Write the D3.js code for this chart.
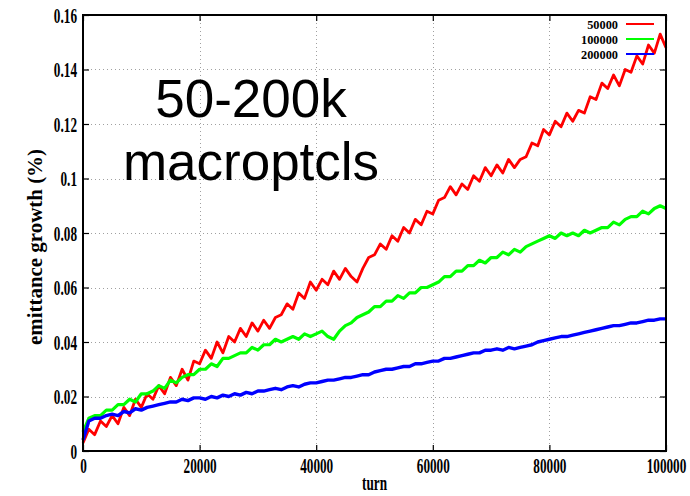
<!DOCTYPE html>
<html>
<head>
<meta charset="utf-8">
<script src="https://cdn.jsdelivr.net/npm/d3@7"></script>
<style>
  html, body { margin: 0; padding: 0; background: #fff; }
  svg { display: block; }
</style>
</head>
<body>
<svg id="chart" width="690" height="496"></svg>
<script>
// Turn number of each sample (every 1000 turns)
const turns = d3.range(0, 100001, 1000);

// Emittance growth (%) for each macroparticle count
const growth50k = [
  0.003, 0.008, 0.006, 0.011, 0.009, 0.013, 0.010, 0.016, 0.013, 0.019,
  0.016, 0.021, 0.019, 0.024, 0.021, 0.027, 0.024, 0.030, 0.026, 0.033,
  0.032, 0.037, 0.034, 0.040, 0.036, 0.042, 0.040, 0.045, 0.042, 0.047,
  0.044, 0.048, 0.045, 0.049, 0.050, 0.054, 0.052, 0.058, 0.056, 0.062,
  0.059, 0.063, 0.061, 0.066, 0.063, 0.067, 0.064, 0.062, 0.067, 0.071,
  0.072, 0.076, 0.074, 0.079, 0.077, 0.082, 0.080, 0.085, 0.083, 0.088,
  0.087, 0.092, 0.093, 0.097, 0.094, 0.098, 0.096, 0.101, 0.099, 0.104,
  0.101, 0.105, 0.102, 0.107, 0.104, 0.107, 0.108, 0.113, 0.112, 0.118,
  0.116, 0.121, 0.119, 0.124, 0.121, 0.125, 0.124, 0.130, 0.129, 0.135,
  0.133, 0.138, 0.134, 0.140, 0.139, 0.145, 0.142, 0.149, 0.146, 0.153,
  0.148
];
const growth100k = [
  0.007, 0.012, 0.013, 0.013, 0.015, 0.015, 0.017, 0.017, 0.019, 0.018,
  0.021, 0.021, 0.022, 0.024, 0.023, 0.026, 0.025, 0.027, 0.028, 0.028,
  0.030, 0.030, 0.032, 0.031, 0.034, 0.034, 0.035, 0.036, 0.036, 0.038,
  0.037, 0.039, 0.039, 0.041, 0.040, 0.041, 0.042, 0.041, 0.043, 0.042,
  0.043, 0.044, 0.042, 0.041, 0.044, 0.046, 0.047, 0.049, 0.050, 0.051,
  0.053, 0.053, 0.055, 0.055, 0.057, 0.056, 0.058, 0.058, 0.060, 0.060,
  0.061, 0.062, 0.064, 0.064, 0.066, 0.066, 0.068, 0.068, 0.070, 0.069,
  0.071, 0.071, 0.073, 0.072, 0.074, 0.073, 0.075, 0.076, 0.077, 0.078,
  0.079, 0.078, 0.080, 0.079, 0.080, 0.079, 0.081, 0.080, 0.081, 0.082,
  0.082, 0.084, 0.083, 0.085, 0.086, 0.086, 0.088, 0.087, 0.089, 0.090,
  0.089
];
const growth200k = [
  0.004, 0.011, 0.012, 0.012, 0.013, 0.0135, 0.013, 0.0145, 0.014, 0.0155,
  0.015, 0.016, 0.0165, 0.017, 0.0175, 0.018, 0.018, 0.019, 0.0185, 0.0195,
  0.0195, 0.019, 0.020, 0.0195, 0.0205, 0.020, 0.021, 0.0205, 0.0215, 0.021,
  0.022, 0.022, 0.0225, 0.023, 0.0225, 0.0235, 0.024, 0.0235, 0.0245, 0.025,
  0.025, 0.0255, 0.026, 0.026, 0.0265, 0.027, 0.027, 0.0275, 0.028, 0.028,
  0.029, 0.0295, 0.030, 0.030, 0.0305, 0.031, 0.031, 0.032, 0.032, 0.0325,
  0.033, 0.033, 0.034, 0.034, 0.0345, 0.035, 0.0355, 0.036, 0.036, 0.037,
  0.037, 0.0375, 0.037, 0.038, 0.0375, 0.038, 0.0385, 0.039, 0.040, 0.0405,
  0.041, 0.0415, 0.042, 0.042, 0.0425, 0.043, 0.0435, 0.044, 0.0445, 0.045,
  0.0455, 0.046, 0.046, 0.0465, 0.047, 0.047, 0.0475, 0.048, 0.048, 0.0485,
  0.0485
];

const seriesNames = ["50000", "100000", "200000"];
const seriesColors = ["#ff0000", "#00ff00", "#0000ff"];
const seriesValues = [growth50k, growth100k, growth200k];

const xTicks = [0, 20000, 40000, 60000, 80000, 100000];
const yTicks = [0, 0.02, 0.04, 0.06, 0.08, 0.1, 0.12, 0.14, 0.16];

const titleLines = ["50-200k", "macroptcls"];

// ---- layout ----
const svg = d3.select("#chart");
const plotLeft = 83, plotRight = 666, plotTop = 15, plotBottom = 451;
const squeeze = 0.63;   // narrow serif look for tick text

const x = d3.scaleLinear().domain([0, 100000]).range([plotLeft, plotRight]);
const y = d3.scaleLinear().domain([0, 0.16]).range([plotBottom, plotTop]);

svg.append("rect").attr("width", 690).attr("height", 496).attr("fill", "#fff");

// dotted grid
const grid = svg.append("g").attr("stroke", "#a0a0a0").attr("stroke-width", 1)
  .attr("stroke-dasharray", "1,3");
grid.selectAll("line.gx").data(xTicks.slice(1, -1)).join("line").attr("class", "gx")
  .attr("x1", d => Math.round(x(d)) + 0.5).attr("x2", d => Math.round(x(d)) + 0.5)
  .attr("y1", plotTop).attr("y2", plotBottom);
grid.selectAll("line.gy").data(yTicks.slice(1, -1)).join("line").attr("class", "gy")
  .attr("y1", d => Math.round(y(d)) + 0.5).attr("y2", d => Math.round(y(d)) + 0.5)
  .attr("x1", plotLeft).attr("x2", plotRight);

// data lines (drawn 50k first, 200k on top)
const line = d3.line().x((d, i) => x(turns[i])).y(d => y(d));
const widths = [2.8, 3.2, 3.4];
seriesValues.forEach((vals, i) => {
  svg.append("path").datum(vals)
    .attr("fill", "none")
    .attr("stroke", seriesColors[i])
    .attr("stroke-width", widths[i])
    .attr("stroke-linejoin", "round")
    .attr("d", line);
});

// axes with inward ticks
const serif = "'Liberation Serif', 'DejaVu Serif', serif";
const fmtY = d => d === 0 ? "0" : String(+d.toFixed(2));

function styleAxis(g) {
  g.select(".domain").remove();
  g.selectAll(".tick line").attr("stroke", "#000").attr("stroke-width", 1.2);
}

const gLeft = svg.append("g").attr("transform", `translate(${plotLeft},0)`)
  .call(d3.axisLeft(y).tickValues(yTicks).tickFormat(fmtY).tickSizeInner(-6).tickSizeOuter(0));
styleAxis(gLeft);
gLeft.selectAll(".tick text")
  .attr("font-family", serif).attr("font-weight", "bold").attr("font-size", 21)
  .attr("fill", "#000").attr("text-anchor", "end")
  .attr("x", -6 / squeeze).attr("dy", "0.34em")
  .attr("transform", `scale(${squeeze},1)`);

const gRight = svg.append("g").attr("transform", `translate(${plotRight},0)`)
  .call(d3.axisRight(y).tickValues(yTicks).tickFormat("").tickSizeInner(-6).tickSizeOuter(0));
styleAxis(gRight);

const gBottom = svg.append("g").attr("transform", `translate(0,${plotBottom})`)
  .call(d3.axisBottom(x).tickValues(xTicks).tickFormat(d3.format("d")).tickSizeInner(-6).tickSizeOuter(0));
styleAxis(gBottom);
gBottom.selectAll(".tick text")
  .attr("font-family", serif).attr("font-weight", "bold").attr("font-size", 21)
  .attr("fill", "#000").attr("text-anchor", "middle")
  .attr("y", 22).attr("dy", 0)
  .attr("transform", `scale(${squeeze},1)`);

const gTop = svg.append("g").attr("transform", `translate(0,${plotTop})`)
  .call(d3.axisTop(x).tickValues(xTicks).tickFormat("").tickSizeInner(-6).tickSizeOuter(0));
styleAxis(gTop);

// frame
svg.append("rect")
  .attr("x", plotLeft).attr("y", plotTop)
  .attr("width", plotRight - plotLeft).attr("height", plotBottom - plotTop)
  .attr("fill", "none").attr("stroke", "#000").attr("stroke-width", 2);

// axis titles
svg.append("text")
  .attr("transform", `translate(${(plotLeft + plotRight) / 2},490) scale(${squeeze},1)`)
  .attr("text-anchor", "middle")
  .attr("font-family", serif).attr("font-weight", "bold").attr("font-size", 21)
  .text("turn");

svg.append("text")
  .attr("transform", "translate(42,247) rotate(-90)")
  .attr("text-anchor", "middle")
  .attr("font-family", serif).attr("font-weight", "bold").attr("font-size", 22)
  .attr("textLength", 196).attr("lengthAdjust", "spacingAndGlyphs")
  .text("emittance growth (%)");

// legend
const legend = svg.append("g");
const legendSqueeze = 0.95;
seriesNames.forEach((name, i) => {
  const ly = 24 + i * 15;
  legend.append("text")
    .attr("transform", `translate(618,${ly + 4.5}) scale(${legendSqueeze},1)`)
    .attr("text-anchor", "end")
    .attr("font-family", serif).attr("font-weight", "bold").attr("font-size", 13)
    .text(name);
  legend.append("line")
    .attr("x1", 626).attr("x2", 654).attr("y1", ly).attr("y2", ly)
    .attr("stroke", seriesColors[i]).attr("stroke-width", 2);
});

// big annotation
svg.append("g").selectAll("text").data(titleLines).join("text")
  .attr("x", 251).attr("y", (d, i) => 117 + i * 63)
  .attr("text-anchor", "middle")
  .attr("font-family", "'Liberation Sans', Arial, sans-serif")
  .attr("font-size", 53)
  .attr("fill", "#000")
  .text(d => d);
</script>
</body>
</html>
